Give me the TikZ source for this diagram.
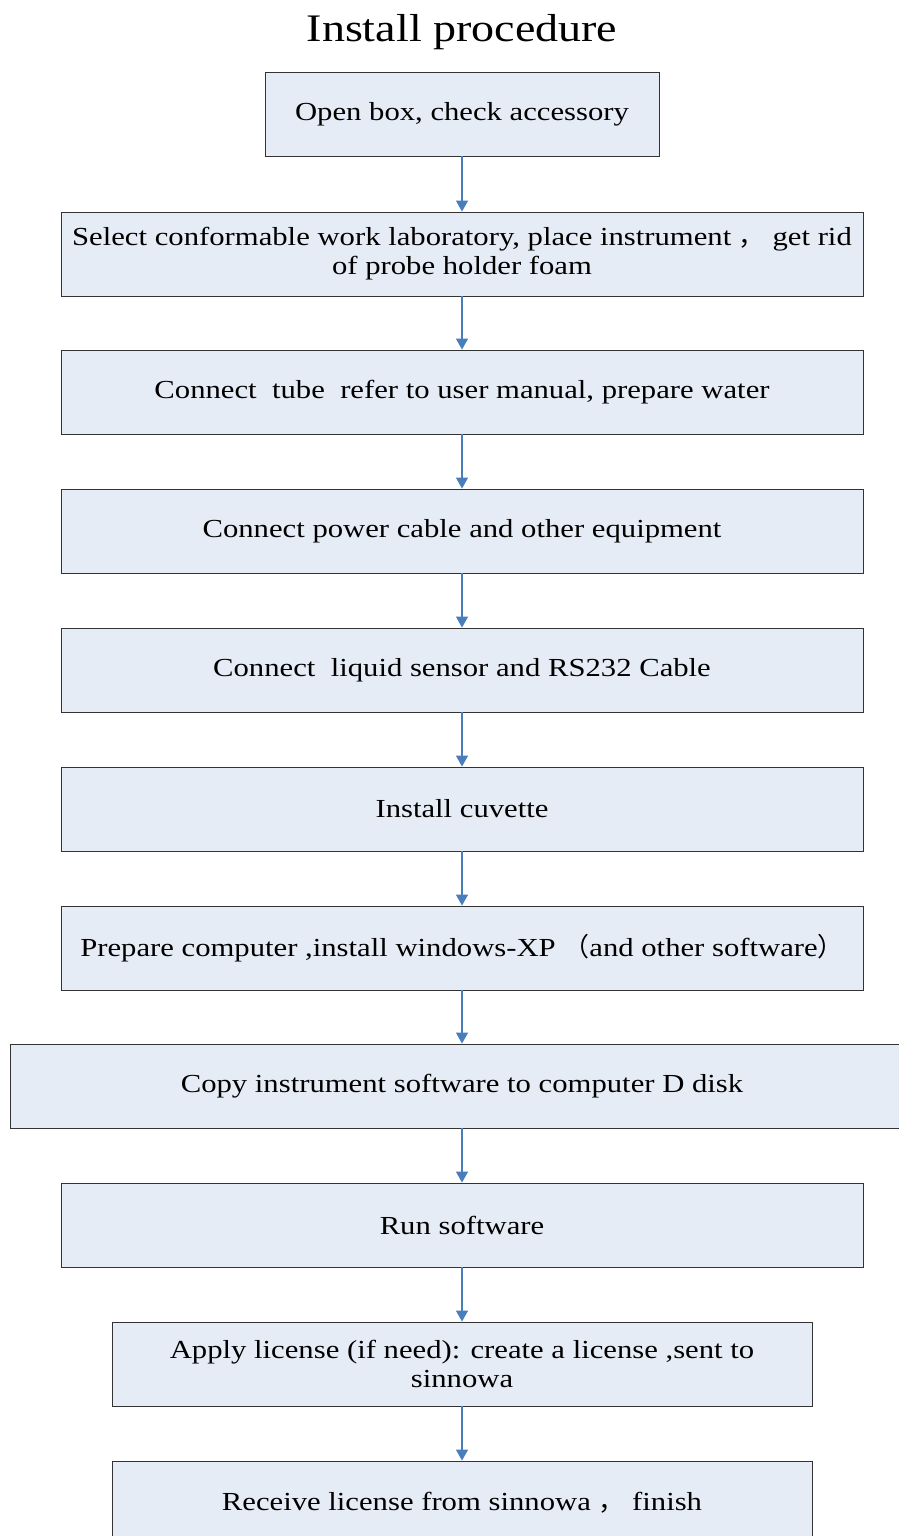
\documentclass[tikz,border=0pt]{standalone}
\usepackage{fontspec}
\setmainfont{Liberation Serif}[FakeStretch=1.18]
\newfontfamily\cjk{Noto Sans CJK SC}
\usetikzlibrary{arrows.meta}
\definecolor{boxfill}{HTML}{E6ECF6}
\definecolor{arrowblue}{HTML}{4A7EBB}
\definecolor{boxedge}{HTML}{333333}
\begin{document}
\begin{tikzpicture}[x=1pt,y=-1pt,
  stepbox/.style={draw=boxedge, line width=0.9pt, fill=boxfill, minimum height=84pt,
    inner sep=0pt, align=center, font=\fontsize{26}{29}\selectfont},
  flow/.style={draw=arrowblue, line width=1.3pt, -{Triangle[width=12pt,length=11pt]}}]
\useasboundingbox (0,0) rectangle (899,1536);
\node[font=\fontsize{39}{44}\selectfont, anchor=base] (title) at (462,42) {Install procedure};
\node[stepbox, minimum width=394pt] (b1) at (462,114) {\raisebox{-3pt}{Open box, check accessory}};
\node[stepbox, minimum width=802pt] (b2) at (462,254) {Select conformable work laboratory, place instrument {\cjk ，} get rid\\of probe holder foam};
\node[stepbox, minimum width=802pt] (b3) at (462,392) {\raisebox{-3pt}{Connect\ \ tube\ \ refer to user manual, prepare water}};
\node[stepbox, minimum width=802pt] (b4) at (462,531) {\raisebox{-3pt}{Connect power cable and other equipment}};
\node[stepbox, minimum width=802pt] (b5) at (462,670) {\raisebox{-3pt}{Connect\ \ liquid sensor and RS232 Cable}};
\node[stepbox, minimum width=802pt] (b6) at (462,809) {\raisebox{-3pt}{Install cuvette}};
\node[stepbox, minimum width=802pt] (b7) at (462,948) {\raisebox{-3pt}{Prepare computer ,install windows-XP\ {\cjk （}and other software{\cjk ）}}};
\node[stepbox, minimum width=890pt] (b8) at (455,1086) {\raisebox{-3pt}{\hspace*{14pt}Copy instrument software to computer D disk}};
\node[stepbox, minimum width=802pt] (b9) at (462,1225) {\raisebox{-3pt}{Run software}};
\node[stepbox, minimum width=700pt] (b10) at (462,1364) {Apply license (if need): create a license ,sent to\\sinnowa};
\node[stepbox, minimum width=700pt] (b11) at (462,1503) {\raisebox{-3pt}{Receive license from sinnowa {\cjk ，}\ finish}};
\draw[flow] (b1.south) -- (b2.north);
\draw[flow] (b2.south) -- (b3.north);
\draw[flow] (b3.south) -- (b4.north);
\draw[flow] (b4.south) -- (b5.north);
\draw[flow] (b5.south) -- (b6.north);
\draw[flow] (b6.south) -- (b7.north);
\draw[flow] (b7.south) -- (b7.south |- b8.north);
\draw[flow] (b7.south |- b8.south) -- (b9.north);
\draw[flow] (b9.south) -- (b10.north);
\draw[flow] (b10.south) -- (b11.north);
\end{tikzpicture}
\end{document}
